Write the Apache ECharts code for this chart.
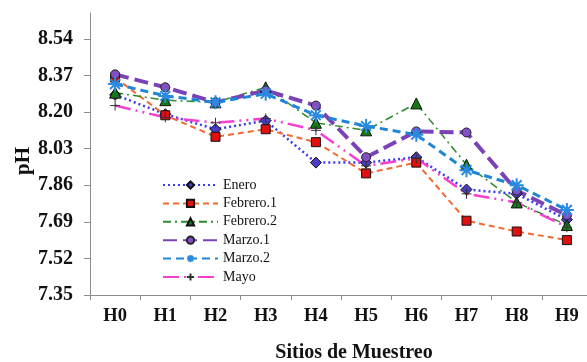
<!DOCTYPE html>
<html>
<head>
<meta charset="utf-8">
<script src="https://cdn.jsdelivr.net/npm/echarts@6/dist/echarts.min.js"></script>
<style>
  html, body { margin: 0; padding: 0; background: #fff; }
  #chart { width: 587px; height: 362px; }
</style>
</head>
<body>
<div id="chart"></div>
<script>
// Sampling sites along the horizontal axis
const sitios = ['H0', 'H1', 'H2', 'H3', 'H4', 'H5', 'H6', 'H7', 'H8', 'H9'];

// pH per campaign
const enero     = [8.28, 8.19, 8.12, 8.16, 7.965, 7.965, 7.99, 7.84, 7.82, 7.70];
const febrero1  = [8.36, 8.185, 8.085, 8.12, 8.06, 7.915, 7.965, 7.695, 7.645, 7.605];
const febrero2  = [8.29, 8.255, 8.245, 8.315, 8.15, 8.115, 8.24, 7.955, 7.78, 7.675];
const marzo1    = [8.375, 8.315, 8.245, 8.30, 8.23, 7.99, 8.11, 8.105, 7.835, 7.72];
const marzo2    = [8.33, 8.275, 8.245, 8.285, 8.185, 8.135, 8.095, 7.93, 7.86, 7.745];
const mayo      = [8.23, 8.175, 8.15, 8.17, 8.115, 7.95, 7.985, 7.82, 7.78, 7.665];

// Y-axis tick values
const yTicks = [7.35, 7.52, 7.69, 7.86, 8.03, 8.20, 8.37, 8.54];

const serif = '"Liberation Serif", "Times New Roman", serif';
const axisGray = '#8c8c8c';

const asterisk = 'path://M5,0L5,10M0,5L10,5M1.5,1.5L8.5,8.5M8.5,1.5L1.5,8.5';
const plus = 'path://M5,0L5,10M0,5L10,5';

function serie(name, data, line, marker) {
  return Object.assign({
    name: name,
    type: 'line',
    data: data,
    lineStyle: line,
    emphasis: { disabled: true }
  }, marker);
}

const chart = echarts.init(document.getElementById('chart'), null, { renderer: 'canvas' });

chart.setOption({
  animation: false,
  backgroundColor: '#fff',
  grid: { left: 90, right: -5, top: 13, bottom: 67, outerBoundsMode: 'none' },
  legend: {
    orient: 'vertical',
    left: 157,
    top: 173,
    itemWidth: 55,
    itemHeight: 9,
    itemGap: 4.4,
    textStyle: { fontFamily: serif, fontSize: 14, color: '#111' },
    data: ['Enero', 'Febrero.1', 'Febrero.2', 'Marzo.1', 'Marzo.2', 'Mayo']
  },
  graphic: [{
    type: 'text',
    x: 24,
    y: 161,
    rotation: Math.PI / 2,
    style: {
      text: 'pH',
      fontFamily: serif,
      fontSize: 21,
      fontWeight: 'bold',
      fill: '#111',
      align: 'center',
      verticalAlign: 'middle'
    }
  }],
  xAxis: {
    type: 'category',
    data: sitios,
    boundaryGap: true,
    name: 'Sitios de Muestreo',
    nameLocation: 'middle',
    nameGap: 48,
    nameTextStyle: { fontFamily: serif, fontSize: 20, fontWeight: 'bold', color: '#111', padding: [0, 0, 0, 26] },
    axisLine: { lineStyle: { color: axisGray, width: 1 } },
    axisTick: { show: true, length: 5, alignWithLabel: false, lineStyle: { color: axisGray } },
    axisLabel: { fontFamily: serif, fontSize: 18.5, fontWeight: 'bold', color: '#111', margin: 12 },
    splitLine: { show: false }
  },
  yAxis: {
    type: 'value',
    min: 7.35,
    max: 8.66,
    axisLine: { show: true, lineStyle: { color: axisGray, width: 1 } },
    axisTick: { show: true, length: 6, customValues: yTicks, lineStyle: { color: axisGray } },
    axisLabel: {
      customValues: yTicks,
      fontFamily: serif, fontSize: 20, fontWeight: 'bold', color: '#111', margin: 17,
      formatter: v => v.toFixed(2)
    },
    splitLine: { show: false }
  },
  series: [
    serie('Enero', enero,
      { color: '#3a3af0', width: 2.5, type: [2, 3] },
      { symbol: 'diamond', symbolSize: 11, itemStyle: { color: '#4a3ec4', borderColor: '#111', borderWidth: 1 } }),
    serie('Febrero.1', febrero1,
      { color: '#f26a30', width: 2, type: [6, 4] },
      { symbol: 'rect', symbolSize: 9, itemStyle: { color: '#e01010', borderColor: '#111', borderWidth: 1 } }),
    serie('Febrero.2', febrero2,
      { color: '#2e8a2e', width: 1.5, type: [8, 4, 2, 4] },
      { symbol: 'triangle', symbolSize: 11, itemStyle: { color: '#157a15', borderColor: '#111', borderWidth: 1 } }),
    serie('Marzo.1', marzo1,
      { color: '#7b42b8', width: 4, type: [14, 6] },
      { symbol: 'circle', symbolSize: 9, itemStyle: { color: '#8250c2', borderColor: '#222', borderWidth: 1 } }),
    serie('Marzo.2', marzo2,
      { color: '#1f86d6', width: 3, type: [8, 5] },
      { symbol: asterisk, symbolSize: 14, itemStyle: { color: 'rgba(0,0,0,0)', borderColor: '#2a8ae2', borderWidth: 2 } }),
    serie('Mayo', mayo,
      { color: '#f53fcf', width: 2.5, type: [16, 5, 2, 5, 2, 5] },
      { symbol: plus, symbolSize: 10, itemStyle: { color: 'rgba(0,0,0,0)', borderColor: '#333', borderWidth: 1 } })
  ]
});
</script>
</body>
</html>
